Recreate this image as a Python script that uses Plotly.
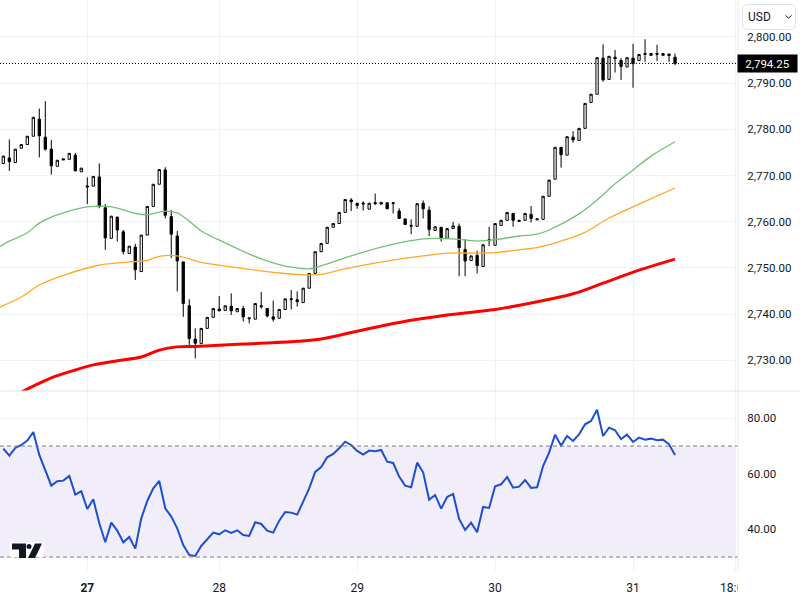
import plotly.graph_objects as go
from plotly.subplots import make_subplots

# one candle per slot, slot 0 is the left-most visible candle
opens = [2772.6, 2773.8, 2772.8, 2775.9, 2776.7, 2778.5, 2782.2, 2778.3, 2775.7, 2772.0,
         2773.6, 2773.5, 2774.4, 2770.8, 2767.5, 2767.7, 2769.7, 2763.0, 2756.4, 2761.0,
         2757.8, 2753.1, 2754.5, 2749.2, 2757.1, 2763.3, 2768.1, 2771.2, 2761.1, 2756.9,
         2751.3, 2741.8, 2734.6, 2733.6, 2736.9, 2739.3, 2741.1, 2740.8, 2741.7, 2740.5,
         2741.2, 2739.2, 2738.9, 2741.8, 2741.2, 2739.4, 2739.1, 2741.0, 2743.1, 2743.1,
         2742.5, 2745.6, 2748.8, 2753.5, 2755.3, 2758.8, 2759.6, 2762.0, 2764.7, 2764.0,
         2763.8, 2762.7, 2763.9, 2763.8, 2764.1, 2763.9, 2762.3, 2760.6, 2759.0, 2759.0,
         2764.0, 2762.5, 2758.1, 2758.8, 2756.4, 2758.5, 2759.0, 2754.0, 2751.6, 2752.7,
         2750.3, 2755.9, 2754.9, 2759.2, 2760.3, 2761.8, 2760.3, 2760.3, 2761.6, 2760.4,
         2760.5, 2765.5, 2769.2, 2776.1, 2774.4, 2778.3, 2777.6, 2780.2, 2785.8, 2787.6,
         2795.4, 2790.8, 2795.6, 2794.9, 2793.5, 2795.4, 2794.9, 2796.2, 2796.0, 2796.2,
         2796.0, 2796.3, 2795.6]
highs = [2774.2, 2777.8, 2775.7, 2776.7, 2778.5, 2782.6, 2784.5, 2786.1, 2777.7, 2773.3,
         2773.6, 2774.8, 2774.9, 2771.6, 2769.6, 2769.8, 2772.6, 2763.8, 2761.2, 2761.0,
         2758.2, 2754.7, 2755.2, 2757.1, 2763.3, 2768.1, 2771.3, 2771.8, 2762.5, 2758.0,
         2751.3, 2743.2, 2736.9, 2736.9, 2739.3, 2741.2, 2743.9, 2741.8, 2744.5, 2741.2,
         2741.8, 2739.2, 2742.3, 2744.8, 2741.2, 2742.9, 2741.0, 2743.3, 2745.2, 2744.9,
         2745.6, 2748.8, 2753.5, 2755.3, 2758.8, 2759.6, 2762.0, 2764.8, 2765.1, 2764.0,
         2764.4, 2764.0, 2766.1, 2764.2, 2764.1, 2764.2, 2762.9, 2760.6, 2760.5, 2763.9,
         2764.6, 2763.3, 2758.9, 2758.8, 2758.5, 2760.0, 2759.6, 2756.2, 2752.6, 2753.7,
         2755.0, 2758.9, 2759.6, 2760.3, 2762.0, 2761.8, 2760.3, 2761.8, 2763.4, 2760.6,
         2765.5, 2769.0, 2776.1, 2776.1, 2778.4, 2779.6, 2780.2, 2785.6, 2787.6, 2795.5,
         2798.4, 2795.8, 2797.2, 2795.4, 2795.5, 2798.5, 2796.2, 2799.5, 2796.4, 2798.3,
         2796.4, 2796.3, 2796.4]
lows = [2772.6, 2771.0, 2772.8, 2775.9, 2776.7, 2778.5, 2773.9, 2775.4, 2770.2, 2772.0,
        2773.4, 2773.5, 2771.0, 2770.8, 2763.8, 2767.7, 2762.9, 2753.9, 2756.4, 2755.7,
        2752.9, 2753.1, 2747.4, 2749.2, 2757.1, 2763.3, 2768.1, 2760.7, 2752.1, 2744.9,
        2739.4, 2733.1, 2730.4, 2733.6, 2736.9, 2739.3, 2740.7, 2740.8, 2739.8, 2740.5,
        2738.4, 2738.0, 2738.9, 2741.2, 2739.3, 2738.4, 2739.1, 2741.0, 2741.0, 2741.6,
        2742.5, 2745.6, 2748.8, 2753.5, 2755.3, 2758.8, 2759.6, 2762.0, 2762.3, 2762.8,
        2762.4, 2762.7, 2763.6, 2763.8, 2762.7, 2761.8, 2760.7, 2759.4, 2757.3, 2759.0,
        2760.7, 2756.9, 2758.1, 2755.7, 2756.4, 2758.5, 2748.2, 2748.2, 2751.6, 2748.8,
        2750.3, 2754.7, 2754.9, 2759.2, 2760.3, 2758.9, 2760.1, 2760.3, 2759.8, 2760.4,
        2760.5, 2765.5, 2769.2, 2771.7, 2774.4, 2777.1, 2777.6, 2780.2, 2785.8, 2787.6,
        2790.3, 2790.8, 2792.3, 2790.7, 2793.5, 2789.0, 2794.9, 2794.6, 2796.0, 2794.8,
        2796.0, 2794.6, 2793.9]
closes = [2774.2, 2773.0, 2775.7, 2776.7, 2778.5, 2782.6, 2778.6, 2775.7, 2772.1, 2773.3,
          2773.4, 2774.8, 2771.0, 2771.6, 2767.7, 2769.8, 2763.3, 2756.5, 2761.2, 2758.2,
          2753.5, 2754.7, 2749.6, 2757.1, 2763.3, 2768.1, 2771.3, 2761.4, 2757.3, 2751.5,
          2742.3, 2734.7, 2733.7, 2736.9, 2739.3, 2741.2, 2740.7, 2741.8, 2740.7, 2741.2,
          2739.4, 2739.0, 2742.3, 2741.6, 2739.6, 2738.9, 2741.0, 2743.3, 2743.3, 2742.7,
          2745.6, 2748.8, 2753.5, 2755.3, 2758.8, 2759.6, 2762.0, 2764.8, 2764.3, 2763.5,
          2764.0, 2764.0, 2764.1, 2764.2, 2762.8, 2764.1, 2760.7, 2759.4, 2759.2, 2763.9,
          2762.8, 2758.3, 2758.9, 2756.5, 2758.5, 2759.1, 2754.4, 2751.5, 2752.6, 2750.5,
          2755.0, 2756.1, 2759.6, 2760.3, 2762.0, 2760.3, 2760.1, 2761.8, 2760.7, 2760.6,
          2765.5, 2769.0, 2776.1, 2774.5, 2778.4, 2777.7, 2780.2, 2785.6, 2787.6, 2795.5,
          2790.7, 2795.8, 2795.3, 2793.6, 2795.5, 2794.2, 2796.2, 2796.4, 2796.4, 2796.4,
          2796.4, 2796.0, 2794.25]

green_x = [-1, 1, 4, 6, 8, 11, 14, 18, 22, 24, 27, 29, 31, 33, 37, 41, 44, 47, 51, 55, 58, 63,
           66, 70, 75, 79, 82, 86, 89, 91, 96, 99, 102, 105, 108, 112]
green_ma = [2754.3, 2755.8, 2757.6, 2759.7, 2761.0, 2762.3, 2763.2, 2763.2, 2761.8, 2761.5, 2762.3,
            2761.9, 2760.1, 2758.0, 2755.4, 2753.0, 2751.5, 2750.4, 2749.8, 2751.3, 2752.6, 2754.5,
            2755.4, 2756.3, 2756.3, 2755.8, 2756.1, 2756.9, 2757.3, 2758.2, 2761.7, 2764.7, 2768.2,
            2771.2, 2774.2, 2777.3]
orange_x = [-1, 3, 6, 10, 15, 17, 21, 24, 26, 29, 33, 37, 41, 46, 50, 53, 56, 61, 66, 70, 74, 79,
            82, 86, 89, 93, 97, 101, 106, 112]
orange_ma = [2741.3, 2743.7, 2746.3, 2748.4, 2750.3, 2750.8, 2751.3, 2751.6, 2752.5, 2752.6, 2751.2,
             2750.4, 2749.7, 2748.9, 2748.5, 2748.6, 2749.5, 2750.8, 2751.9, 2752.6, 2753.2, 2753.2,
             2753.3, 2753.9, 2754.4, 2755.8, 2757.7, 2760.8, 2763.8, 2767.3]
red_x = [3, 5, 8, 12, 15, 19, 23, 26, 29, 32, 40, 49, 53, 59, 66, 74, 82, 88, 95, 100, 106, 112]
red_ma = [2723.1, 2724.4, 2726.2, 2727.9, 2729.0, 2729.9, 2730.7, 2732.2, 2732.9, 2733.0, 2733.5,
          2734.1, 2734.6, 2736.3, 2738.2, 2739.8, 2741.0, 2742.4, 2744.4, 2746.7, 2749.5, 2751.9]

rsi = [69.07, 66.55, 69.31, 70.39, 71.95, 75.08, 66.79, 61.38, 55.74, 57.30,
       57.54, 59.22, 52.50, 53.69, 47.33, 50.81, 42.16, 35.32, 42.40, 39.52,
       35.32, 37.24, 33.03, 43.96, 50.21, 54.77, 57.42, 47.57, 44.56, 40.36,
       34.35, 30.75, 30.39, 33.99, 36.52, 38.80, 38.20, 39.64, 38.68, 39.64,
       37.96, 37.60, 42.52, 41.92, 39.52, 38.80, 43.12, 46.25, 46.01, 45.29,
       49.97, 54.77, 60.66, 62.46, 65.95, 67.15, 69.19, 71.59, 70.39, 68.23,
       66.91, 68.35, 68.11, 68.59, 64.38, 63.90, 58.98, 55.74, 55.14, 64.02,
       60.54, 50.69, 52.37, 47.45, 51.65, 52.73, 43.72, 39.76, 42.40, 38.92,
       48.05, 47.69, 55.50, 56.22, 58.86, 55.02, 55.38, 57.78, 54.90, 55.14,
       62.82, 67.63, 74.11, 70.15, 73.63, 71.83, 74.23, 77.84, 79.04, 83.12,
       73.63, 76.64, 75.68, 72.55, 74.11, 71.47, 73.03, 72.31, 72.67, 72.07,
       72.31, 70.63, 66.79]

price_ticks = [2730, 2740, 2750, 2760, 2770, 2780, 2790, 2800]
rsi_ticks = [40, 60, 80]
date_slots = [14, 36, 59, 82, 105, 122]
date_labels = ["<b>27</b>", "28", "29", "30", "31", "18:00"]
last_price = 2794.25

TEXT = "#131722"
GRID = "#f0f1f4"
W, H, PANE_H = 738, 571, 391


def px_x(x):
    return x / W


def px_y(y):
    return (H - y) / H


def poly(points):
    return "M" + " L".join(f"{px_x(x)},{px_y(y)}" for x, y in points) + " Z"


def rounded_box(x0, y0, x1, y1, r):
    return (f"M{px_x(x0 + r)},{px_y(y0)} L{px_x(x1 - r)},{px_y(y0)} Q{px_x(x1)},{px_y(y0)} {px_x(x1)},{px_y(y0 + r)} "
            f"L{px_x(x1)},{px_y(y1 - r)} Q{px_x(x1)},{px_y(y1)} {px_x(x1 - r)},{px_y(y1)} "
            f"L{px_x(x0 + r)},{px_y(y1)} Q{px_x(x0)},{px_y(y1)} {px_x(x0)},{px_y(y1 - r)} "
            f"L{px_x(x0)},{px_y(y0 + r)} Q{px_x(x0)},{px_y(y0)} {px_x(x0 + r)},{px_y(y0)} Z")


candle_x = list(range(len(closes)))

fig = make_subplots(rows=2, cols=1, shared_xaxes=True, vertical_spacing=0,
                    row_heights=[PANE_H, H - PANE_H])

fig.add_trace(go.Scatter(x=green_x, y=green_ma, mode="lines", line=dict(color="#72c076", width=1.3, shape="spline")), row=1, col=1)
fig.add_trace(go.Scatter(x=orange_x, y=orange_ma, mode="lines", line=dict(color="#ffa726", width=1.3, shape="spline")), row=1, col=1)
fig.add_trace(go.Scatter(x=red_x, y=red_ma, mode="lines", line=dict(color="#ff0000", width=3, shape="spline")), row=1, col=1)
fig.add_trace(go.Candlestick(x=candle_x, open=opens, high=highs, low=lows, close=closes,
                             increasing=dict(line=dict(color="black", width=1), fillcolor="white"),
                             decreasing=dict(line=dict(color="black", width=1), fillcolor="black"),
                             whiskerwidth=0), row=1, col=1)
fig.add_trace(go.Scatter(x=candle_x, y=rsi, mode="lines", line=dict(color="#1c4fd0", width=2)), row=2, col=1)

fig.update_xaxes(range=[-0.555, 122.5], tickvals=date_slots, ticktext=date_labels, showgrid=True,
                 gridcolor=GRID, gridwidth=1, zeroline=False, showline=False, rangeslider_visible=False,
                 ticks="outside", ticklen=6, tickcolor="rgba(0,0,0,0)",
                 tickfont=dict(family="Roboto", size=12, color=TEXT))
fig.update_yaxes(side="right", showgrid=True, gridcolor=GRID, gridwidth=1, zeroline=False, showline=False,
                 ticks="outside", ticklen=6, tickcolor="rgba(0,0,0,0)",
                 tickfont=dict(family="Roboto", size=11.5, color=TEXT))
fig.update_yaxes(range=[2723.35, 2807.99], tickvals=price_ticks, tickformat=",.2f", row=1, col=1)
fig.update_yaxes(range=[24.97, 89.84], tickvals=rsi_ticks, tickformat=".2f", row=2, col=1)

# RSI band and its two dashed limits
fig.add_shape(type="rect", xref="x2 domain", yref="y2", x0=0, x1=0.997, y0=30, y1=70, layer="below",
              line_width=0, fillcolor="rgba(126,87,194,0.1)")
for level in [30, 70]:
    fig.add_shape(type="line", xref="x2 domain", yref="y2", x0=0, x1=1, y0=level, y1=level,
                  line=dict(color="#787b86", width=1, dash="4px,3px"))

# last price line
fig.add_shape(type="line", xref="x domain", yref="y", x0=0, x1=1, y0=last_price, y1=last_price,
              line=dict(color="black", width=1, dash="1px,2px"))

# pane separators
fig.add_shape(type="line", xref="paper", yref="paper", x0=0, x1=800 / W, y0=px_y(PANE_H), y1=px_y(PANE_H),
              line=dict(color="#e0e3eb", width=1))
fig.add_shape(type="line", xref="paper", yref="paper", x0=1, x1=1, y0=0, y1=1,
              line=dict(color="#e8e9ee", width=1))

# hides the part of the last time label that runs under the price scale
fig.add_shape(type="rect", xref="paper", yref="paper", x0=px_x(737.5), x1=px_x(800), y0=px_y(600), y1=px_y(572),
              fillcolor="white", line_width=0)

# watermark logo
fig.add_shape(type="rect", xref="paper", yref="paper", x0=px_x(10), x1=px_x(44), y0=px_y(557), y1=px_y(542),
              fillcolor="white", line_width=0)
fig.add_shape(type="path", xref="paper", yref="paper", fillcolor="#131722", line_width=0,
              path=poly([(12, 543.5), (26, 543.5), (26, 558), (19, 558), (19, 549.5), (12, 549.5)]))
fig.add_shape(type="circle", xref="paper", yref="paper", fillcolor="#131722", line_width=0,
              x0=px_x(26.5), x1=px_x(31.5), y0=px_y(549), y1=px_y(544))
fig.add_shape(type="path", xref="paper", yref="paper", fillcolor="#131722", line_width=0,
              path=poly([(35, 543.5), (42, 543.5), (35, 558), (28, 558)]))

# currency selector, drawn over the top of the price scale
fig.add_shape(type="rect", xref="paper", yref="paper", x0=px_x(742), x1=px_x(796), y0=px_y(32.5), y1=px_y(29),
              fillcolor="white", line_width=0)
fig.add_shape(type="path", xref="paper", yref="paper", fillcolor="white", line=dict(color="#e0e3eb", width=1),
              path=rounded_box(742.5, 4.5, 795.5, 29.5, 5))
fig.add_shape(type="path", xref="paper", yref="paper", line=dict(color="#131722", width=1),
              path=f"M{px_x(785.5)},{px_y(15.5)} L{px_x(788.5)},{px_y(18)} L{px_x(791.5)},{px_y(15.5)}")
fig.add_annotation(xref="paper", yref="paper", x=px_x(746), y=px_y(16.5), text="USD", showarrow=False,
                   xanchor="left", yanchor="middle", font=dict(family="Roboto", size=12, color=TEXT))

fig.add_annotation(xref="paper", yref="y", x=px_x(767.5), y=last_price, text=f"{last_price:,.2f}", showarrow=False,
                   xanchor="center", yanchor="middle", bgcolor="black", width=57, height=15,
                   font=dict(family="Roboto", size=11.5, color="white"))

fig.update_layout(width=800, height=600, showlegend=False, plot_bgcolor="white", paper_bgcolor="white",
                  boxgap=0.45, margin=dict(l=0, r=800 - W, t=0, b=600 - H))

# the page's default body margin would push the 800x600 figure out of the window
fig.write_html("out.html", config={"displayModeBar": False},
               post_script="document.body.style.margin='0';document.body.style.overflow='hidden';")
